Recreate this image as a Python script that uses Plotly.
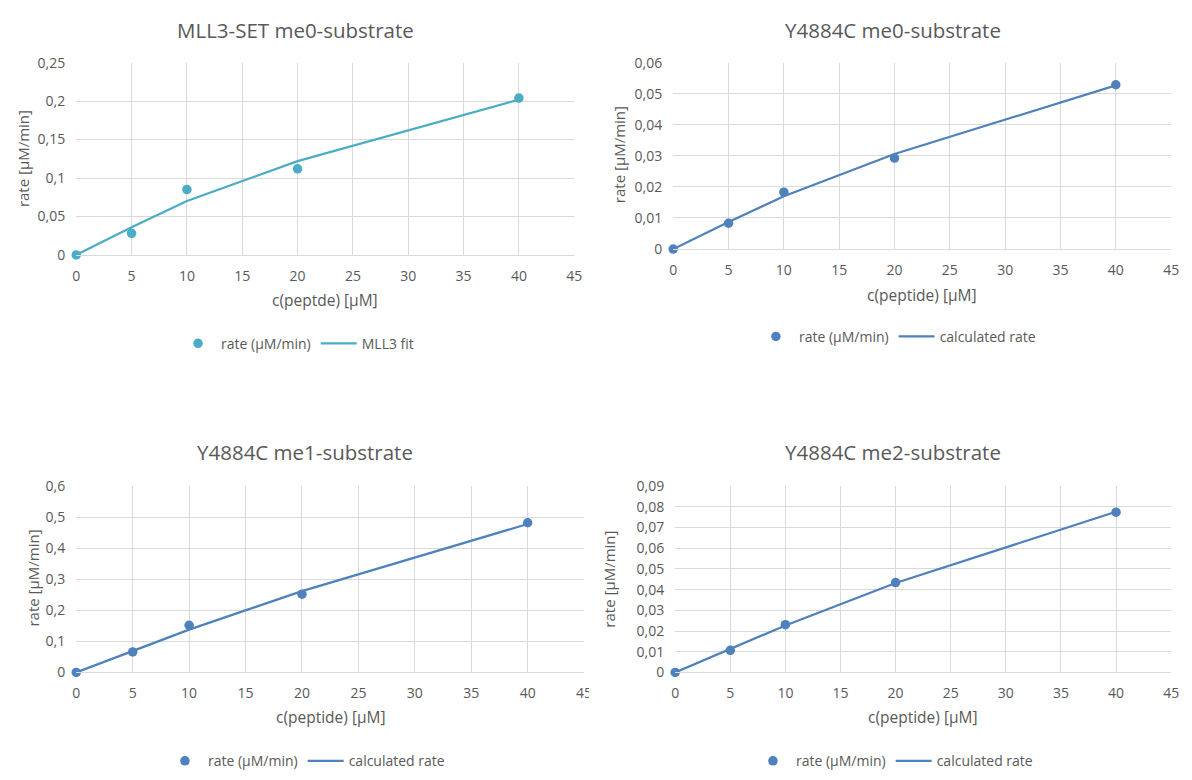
import plotly.graph_objects as go

W, H = 1192, 780

conc = [0, 5, 10, 20, 40]

titles = ["MLL3-SET me0-substrate", "Y4884C me0-substrate",
          "Y4884C me1-substrate", "Y4884C me2-substrate"]
x_titles = ["c(peptde) [µM]", "c(peptide) [µM]", "c(peptide) [µM]", "c(peptide) [µM]"]
y_title = "rate [µM/min]"

rate_mll3_me0 = [0, 0.028, 0.085, 0.112, 0.204]
fit_mll3_me0 = [0, 0.036, 0.070, 0.122, 0.202]

rate_y_me0 = [0, 0.0083, 0.0183, 0.0293, 0.0529]
fit_y_me0 = [0, 0.0087, 0.0170, 0.0306, 0.0527]

rate_y_me1 = [0, 0.066, 0.152, 0.252, 0.482]
fit_y_me1 = [0, 0.068, 0.138, 0.262, 0.478]

rate_y_me2 = [0, 0.0107, 0.0231, 0.0434, 0.0774]
fit_y_me2 = [0, 0.0112, 0.0227, 0.0432, 0.0776]

fit_names = ["MLL3 fit", "calculated rate", "calculated rate", "calculated rate"]
rates = [rate_mll3_me0, rate_y_me0, rate_y_me1, rate_y_me2]
fits = [fit_mll3_me0, fit_y_me0, fit_y_me1, fit_y_me2]
y_ranges = [(0, 0.25, 0.05), (0, 0.06, 0.01), (0, 0.6, 0.1), (0, 0.09, 0.01)]
x_range = (0, 45, 5)

colors = ["#4BACC6", "#4F81BD", "#4F81BD", "#4F81BD"]
TXT = "#595959"
GRID = "#D9D9D9"
FONT = "Open Sans"

# pixel layout of each panel: plot area (x0, x1, ytop, ybottom)
boxes = [(73, 576, 54, 251), (676, 1179, 54, 245), (73, 586, 488, 679), (678, 1179, 488, 679)]
title_pos = [(294, 20), (898, 20), (304, 453), (898, 453)]
xtitle_pos = [(324, 297), (927, 292), (330, 725), (928, 725)]
ytitle_pos = [(19, 152), (622, 148), (29, 582), (611, 583)]
legend_pos = [(296, 342), (902, 335), (305, 770), (899, 770)]


def px(x):
    return x / W


def py(y):
    return 1 - y / H


def text_ann(text, pos, size, angle=0):
    return dict(text=text, x=px(pos[0]), y=py(pos[1]), xref="paper", yref="paper",
                xanchor="center", yanchor="middle", showarrow=False, textangle=angle,
                font=dict(family=FONT, size=size, color=TXT))


fig = go.Figure()
annotations = []
for i in range(4):
    ax = "" if i == 0 else str(i + 1)
    leg = "legend" if i == 0 else f"legend{i + 1}"
    fig.add_trace(go.Scatter(
        x=conc, y=rates[i], mode="markers", name="rate (µM/min)",
        marker=dict(color=colors[i], size=9.5),
        xaxis="x" + ax, yaxis="y" + ax, legend=leg, cliponaxis=False))
    fig.add_trace(go.Scatter(
        x=conc, y=fits[i], mode="lines", name=fit_names[i],
        line=dict(color=colors[i], width=2.25),
        xaxis="x" + ax, yaxis="y" + ax, legend=leg, cliponaxis=False))
    x0, x1, yt, yb = boxes[i]
    fig.layout["xaxis" + ax] = dict(
        domain=[px(x0), px(x1)], anchor="y" + ax,
        range=[x_range[0], x_range[1]], dtick=x_range[2], tick0=0,
        showgrid=True, gridcolor=GRID, gridwidth=1,
        showline=True, linecolor=GRID, linewidth=1, mirror=False,
        zeroline=False, ticks="", ticklabelstandoff=8,
        tickfont=dict(family=FONT, size=14, color=TXT),
        fixedrange=True)
    lo, hi, dt = y_ranges[i]
    fig.layout["yaxis" + ax] = dict(
        domain=[py(yb), py(yt)], anchor="x" + ax,
        range=[lo, hi], dtick=dt, tick0=0,
        showgrid=True, gridcolor=GRID, gridwidth=1,
        showline=False, zeroline=False, ticks="", ticklabelstandoff=10,
        tickfont=dict(family=FONT, size=14, color=TXT),
        fixedrange=True)
    lx, ly = legend_pos[i]
    fig.layout[leg] = dict(
        x=px(lx), y=py(ly), xanchor="center", yanchor="middle",
        orientation="h", font=dict(family=FONT, size=14, color=TXT),
        bgcolor="rgba(0,0,0,0)", itemwidth=36, tracegroupgap=0)
    annotations.append(text_ann(titles[i], title_pos[i], 20.5))
    annotations.append(text_ann(x_titles[i], xtitle_pos[i], 15.5))
    annotations.append(text_ann(y_title, ytitle_pos[i], 15, angle=-90))

fig.update_layout(
    width=W, height=H,
    margin=dict(l=0, r=0, t=0, b=0),
    paper_bgcolor="white", plot_bgcolor="white",
    separators=", ",
    annotations=annotations,
    showlegend=True,
    shapes=[dict(type="rect", xref="paper", yref="paper",
                 x0=px(591), x1=px(600), y0=py(780), y1=py(690),
                 fillcolor="white", line=dict(width=0), layer="above")],
)

post = """
document.documentElement.style.margin='0';
document.body.style.margin='0';
document.body.style.overflow='hidden';
"""

fig.write_html("out.html", post_script=post, config={"displayModeBar": False})
